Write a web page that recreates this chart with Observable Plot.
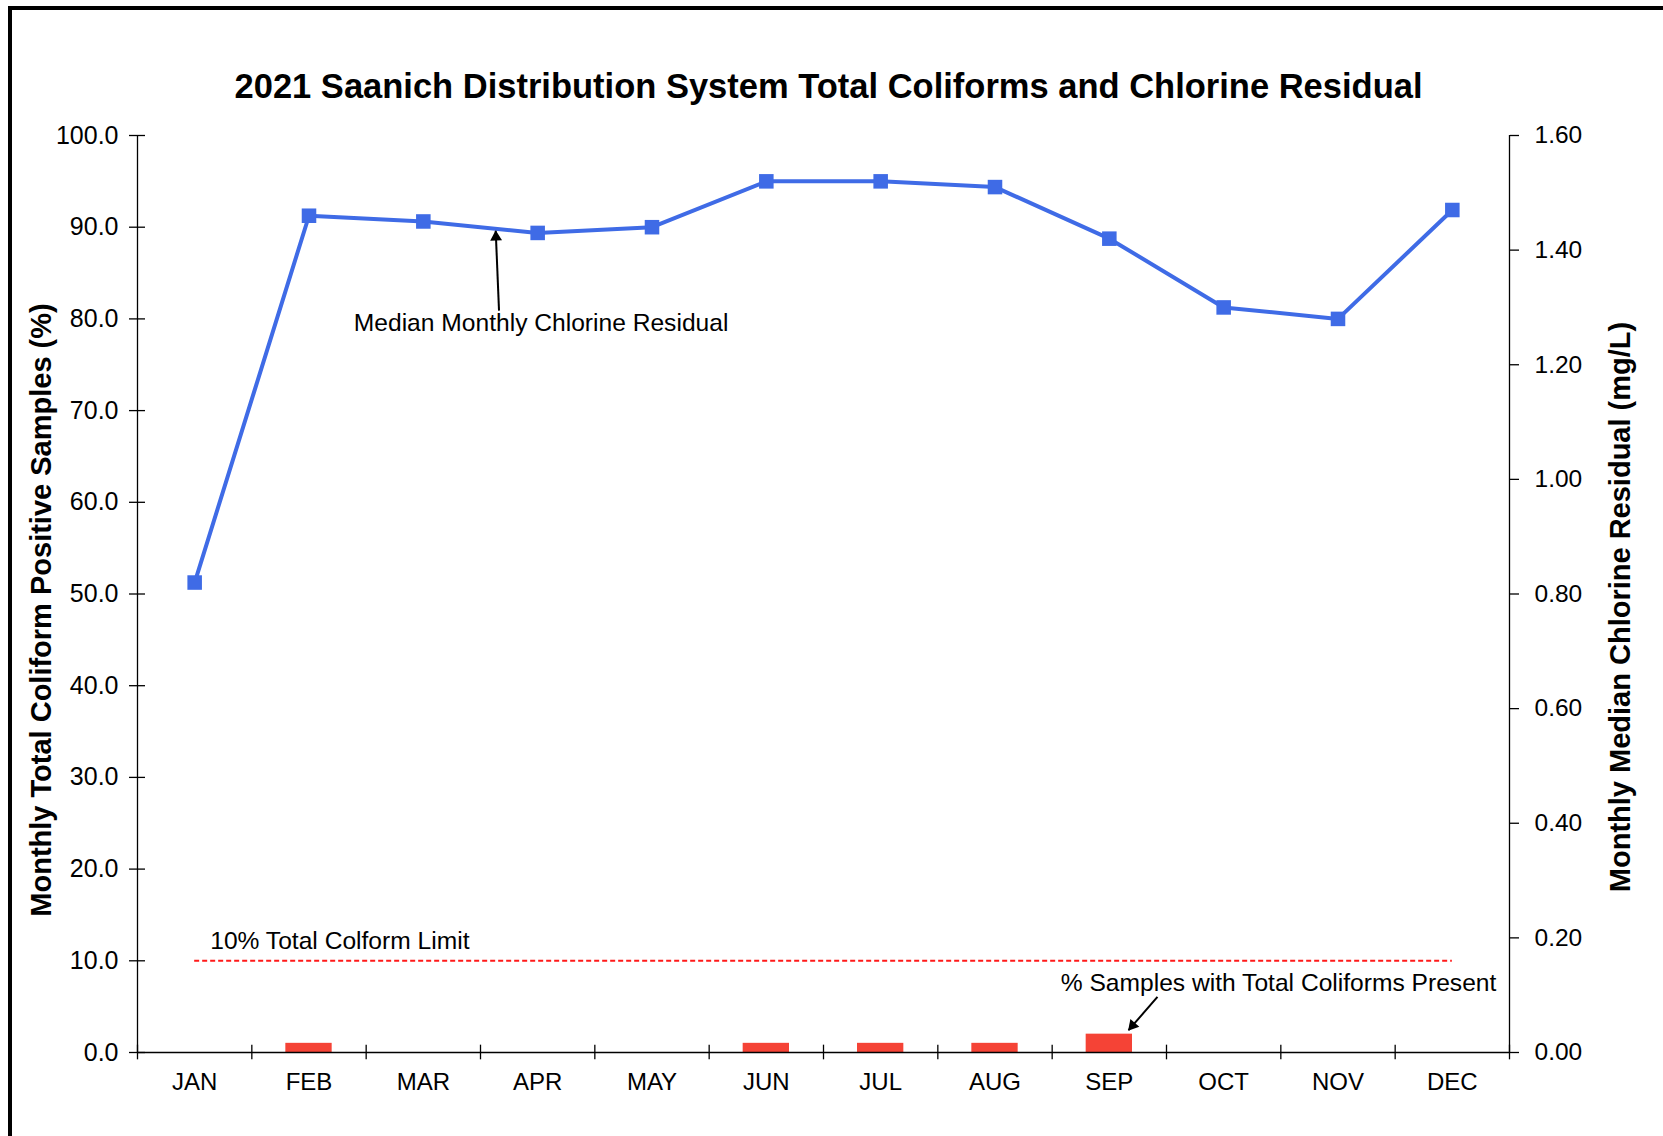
<!DOCTYPE html>
<html><head><meta charset="utf-8">
<script src="https://cdn.jsdelivr.net/npm/d3@7"></script>
<script src="https://cdn.jsdelivr.net/npm/@observablehq/plot@0.6"></script>
<style>
html,body{margin:0;padding:0;background:#fff;overflow:hidden}
#wrap{position:relative;width:1663px;height:1136px}
#border{position:absolute;left:8px;top:6px;width:1700px;height:1200px;border-left:4px solid #000;border-top:4px solid #000;box-sizing:border-box}
#chart{position:absolute;left:0;top:0}
</style></head><body>
<div id="wrap"><div id="border"></div><div id="chart"></div></div>
<script>
// ---- data ----
const months = ["JAN","FEB","MAR","APR","MAY","JUN","JUL","AUG","SEP","OCT","NOV","DEC"];
const chlorine = [0.82,1.46,1.45,1.43,1.44,1.52,1.52,1.51,1.42,1.30,1.28,1.47];   // mg/L
const coliformPct = [0,1.0,0,0,0,1.0,1.0,1.0,2.0,0,0,0];                          // %
const limitPct = 10;
const leftTicks = [0,10,20,30,40,50,60,70,80,90,100];
const rightTicks = [0,0.2,0.4,0.6,0.8,1.0,1.2,1.4,1.6];
const title = "2021 Saanich Distribution System Total Coliforms and Chlorine Residual";
const leftTitle = "Monthly Total Coliform Positive Samples (%)";
const rightTitle = "Monthly Median Chlorine Residual (mg/L)";
const annotations = [
  {text: "Median Monthly Chlorine Residual", x: 3.03, y: 79.5},
  {text: "10% Total Colform Limit", x: 1.27, y: 12.2},
  {text: "% Samples with Total Coliforms Present", x: 9.48, y: 7.6}
];
const arrows = [
  {x1: 2.662, y1: 80.9, x2: 2.633, y2: 89.6},
  {x1: 8.421, y1: 6.07, x2: 8.168, y2: 2.43}
];

// ---- layout ----
const W = 1663, H = 1136;
const mL = 137, mR = W - 1509, mT = 135, mB = H - 1052;
const k = 100 / 1.6; // chlorine -> percent axis
const pxX = (W - mL - mR) / months.length, pxY = (H - mT - mB) / 100;

const rows = months.map((m, i) => ({i, month: m, chl: chlorine[i], chlScaled: chlorine[i] * k, pct: coliformPct[i]}));
const bounds = d3.range(months.length + 1).map(i => i - 0.5);

function arrowMarks(a) {
  const sx = (a.x2 - a.x1) * pxX, sy = -(a.y2 - a.y1) * pxY;
  const len = Math.hypot(sx, sy), ux = sx / len, uy = sy / len;
  const back = 6.2;
  const rot = Math.atan2(ux, -uy) * 180 / Math.PI;
  return [
    Plot.link([a], {x1: "x1", y1: "y1", x2: "x2", y2: "y2", stroke: "#000", strokeWidth: 2}),
    Plot.dot([a], {x: "x2", y: "y2", symbol: "triangle", r: 4.4, fill: "#000", stroke: null, rotate: rot, dx: -ux * back, dy: -uy * back})
  ];
}

const font = "'Liberation Sans', Arial, sans-serif";

const chart = Plot.plot({
  width: W, height: H,
  marginLeft: mL, marginRight: mR, marginTop: mT, marginBottom: mB,
  style: {fontFamily: font, fontSize: "24px", color: "#000", background: "transparent"},
  x: {type: "linear", domain: [-0.5, months.length - 0.5], axis: null},
  y: {type: "linear", domain: [0, 100], axis: null},
  marks: [
    // limit line
    Plot.ruleY([limitPct], {x1: 0, x2: months.length - 1, stroke: "#ff1a1a", strokeWidth: 2, strokeDasharray: "5,3"}),
    // bars
    Plot.rectY(rows.filter(d => d.pct > 0), {x1: d => d.i - 0.5, x2: d => d.i + 0.5, y1: 0, y2: "pct", insetLeft: 34, insetRight: 34, fill: "#f54336"}),
    // axis lines
    Plot.ruleX([bounds[0], bounds[bounds.length - 1]], {stroke: "#000", strokeWidth: 1.3}),
    Plot.ruleY([0], {x1: bounds[0], x2: bounds[bounds.length - 1], stroke: "#000", strokeWidth: 1.3}),
    Plot.ruleX(bounds, {y1: -0.8, y2: 0.8, stroke: "#000", strokeWidth: 1.3}),
    // left axis
    Plot.axisY({anchor: "left", ticks: leftTicks, tickFormat: d => d.toFixed(1), tickSize: 16, dx: 8, tickPadding: 11, fontSize: 25, label: null, strokeWidth: 1.3}),
    // right axis
    Plot.axisY({anchor: "right", ticks: rightTicks.map(v => v * k), tickFormat: d => (d / k).toFixed(2), tickSize: 9, tickPadding: 16, fontSize: 24.5, label: null, strokeWidth: 1.3}),
    // x axis labels
    Plot.axisX({anchor: "bottom", ticks: months.map((m, i) => i), tickFormat: i => months[i], tickSize: 0, tickPadding: 20, fontSize: 24, label: null}),
    // chlorine line
    Plot.line(rows, {x: "i", y: "chlScaled", stroke: "#3f6be6", strokeWidth: 4}),
    Plot.dot(rows, {x: "i", y: "chlScaled", symbol: "square", r: 8.2, fill: "#3f6be6", stroke: null}),
    // annotations
    Plot.text(annotations, {x: "x", y: "y", text: "text", fontSize: 24.6, fill: "#000"}),
    ...arrows.flatMap(arrowMarks),
    // titles
    Plot.text([title], {frameAnchor: "top", textAnchor: "middle", dx: 5, dy: -62, fontSize: 34.5, fontWeight: "bold", fill: "#000"}),
    Plot.text([leftTitle], {frameAnchor: "left", textAnchor: "middle", rotate: -90, dx: -96, dy: 16, fontSize: 29, fontWeight: "bold", fill: "#000"}),
    Plot.text([rightTitle], {frameAnchor: "right", textAnchor: "middle", rotate: -90, dx: 111, dy: 13, fontSize: 29, fontWeight: "bold", fill: "#000"})
  ]
});
document.getElementById("chart").appendChild(chart);
</script>
</body></html>
